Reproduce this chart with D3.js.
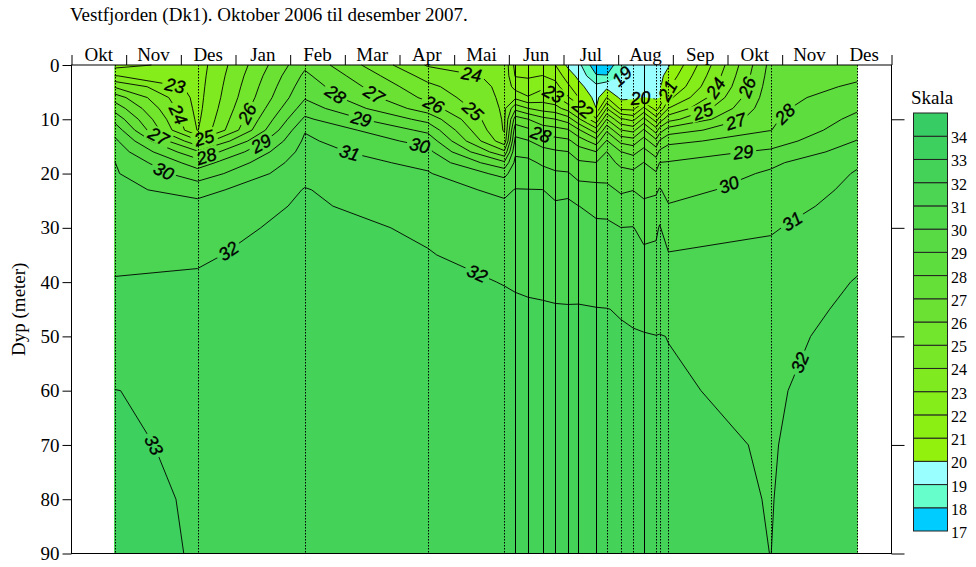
<!DOCTYPE html>
<html>
<head>
<meta charset="utf-8">
<title>Vestfjorden (Dk1)</title>
<script src="https://cdn.jsdelivr.net/npm/d3@7/dist/d3.min.js"></script>
<style>
  body { margin: 0; background: #fff; }
  svg { display: block; }
</style>
</head>
<body>
<div id="chart"></div>
<script>
const W = 976, H = 567;
const serif = '"Liberation Serif", "Times New Roman", serif';
const sans = '"Liberation Sans", Arial, sans-serif';

const title = "Vestfjorden (Dk1). Oktober 2006 til desember 2007.";
const months = ["Okt","Nov","Des","Jan","Feb","Mar","Apr","Mai","Jun","Jul","Aug","Sep","Okt","Nov","Des"];
const depthTicks = [0, 10, 20, 30, 40, 50, 60, 70, 80, 90];
const legendLevels = d3.range(17, 35);

// sampling depths (m) of each profile
const depths = [0, 2, 4, 6, 8, 10, 12, 14, 16, 18, 20, 23, 26, 30, 35, 40, 45, 50, 60, 70, 80, 90];

// station dates
const stations = [
  "2006-10-25", "2006-12-10", "2007-02-08", "2007-04-16", "2007-05-29",
  "2007-06-04", "2007-06-11", "2007-06-19", "2007-06-26", "2007-07-03",
  "2007-07-09", "2007-07-19", "2007-07-25", "2007-08-02", "2007-08-09",
  "2007-08-15", "2007-08-22", "2007-08-24", "2007-08-29", "2007-10-25",
  "2007-12-12"
];

// salinity profile per station, one value per depth above
const salinity = [
  [21.6, 23.02, 24.9, 26.53, 27.63, 28.68, 29.61, 30.22, 30.61, 31.02, 31.1, 31.24, 31.38, 31.57, 31.81, 32.05, 32.3, 32.56, 33.01, 33.09, 33.17, 33.25],
  [22.5, 22.55, 22.6, 22.65, 22.7, 22.8, 22.95, 25.2, 27.14, 28.5, 29.43, 30.64, 31.3, 31.6, 31.9, 32.1, 32.33, 32.55, 32.87, 32.9, 32.94, 32.95],
  [27.8, 28.21, 28.56, 28.91, 29.5, 30.19, 30.93, 31.18, 31.37, 31.57, 31.76, 32.04, 32.13, 32.28, 32.33, 32.38, 32.42, 32.46, 32.52, 32.58, 32.64, 32.7],
  [23.9, 24.63, 25.25, 25.75, 26.5, 27.67, 28.75, 29.65, 30.29, 30.76, 31.08, 31.32, 31.56, 31.88, 32.04, 32.09, 32.15, 32.21, 32.32, 32.43, 32.54, 32.65],
  [23.7, 23.72, 23.75, 23.78, 23.82, 23.86, 23.9, 24.38, 26.2, 28.2, 29.71, 30.83, 31.15, 31.39, 31.7, 31.99, 32.06, 32.12, 32.24, 32.36, 32.48, 32.6],
  [21.7, 21.95, 22.62, 23.77, 25.7, 27.5, 28.57, 29.28, 29.83, 30.24, 30.58, 31.03, 31.19, 31.42, 31.69, 31.97, 32.05, 32.1, 32.22, 32.33, 32.44, 32.55],
  [21.6, 21.89, 22.39, 23.09, 25.02, 27.02, 28.22, 29.06, 29.69, 30.23, 30.53, 31.02, 31.18, 31.4, 31.67, 31.95, 32.04, 32.09, 32.2, 32.32, 32.43, 32.55],
  [21.3, 22.02, 22.8, 23.54, 24.58, 26.33, 27.55, 28.56, 29.32, 29.86, 30.33, 31.01, 31.16, 31.38, 31.65, 31.92, 32.04, 32.09, 32.2, 32.32, 32.43, 32.55],
  [21.0, 21.67, 22.4, 23.25, 24.38, 26.02, 27.37, 28.35, 29.13, 29.64, 30.13, 30.78, 31.11, 31.33, 31.61, 31.89, 32.03, 32.09, 32.2, 32.32, 32.43, 32.55],
  [19.8, 20.5, 21.22, 22.13, 23.58, 25.5, 27.12, 28.2, 29.02, 29.54, 30.08, 30.85, 31.13, 31.34, 31.6, 31.86, 32.03, 32.08, 32.19, 32.31, 32.43, 32.55],
  [19.3, 19.77, 20.33, 21.02, 22.62, 24.2, 26.17, 27.56, 28.44, 29.14, 29.68, 30.39, 31.01, 31.24, 31.53, 31.83, 32.04, 32.09, 32.2, 32.32, 32.43, 32.55],
  [17.3, 18.1, 19.3, 19.67, 20.02, 22.22, 24.44, 26.45, 28.02, 29.02, 29.63, 30.3, 30.79, 31.16, 31.46, 31.75, 32.02, 32.07, 32.19, 32.3, 32.42, 32.55],
  [17.4, 18.05, 19.75, 21.02, 23.02, 25.02, 26.83, 28.09, 29.02, 29.34, 29.69, 30.22, 30.76, 31.16, 31.44, 31.74, 32.01, 32.07, 32.19, 32.3, 32.42, 32.55],
  [18.6, 18.96, 19.38, 19.79, 20.77, 23.17, 25.02, 26.73, 28.02, 28.8, 29.29, 29.88, 30.38, 31.01, 31.33, 31.65, 31.97, 32.05, 32.17, 32.3, 32.42, 32.55],
  [19.3, 19.49, 19.68, 19.88, 20.7, 22.7, 24.7, 26.47, 27.71, 28.6, 29.22, 29.98, 30.45, 31.03, 31.32, 31.62, 31.91, 32.04, 32.16, 32.28, 32.41, 32.55],
  [19.4, 19.6, 19.8, 20.02, 22.22, 24.3, 26.14, 27.44, 28.33, 29.02, 29.31, 29.77, 30.19, 30.71, 31.18, 31.51, 31.84, 32.03, 32.16, 32.28, 32.41, 32.55],
  [19.5, 19.64, 19.77, 19.91, 20.58, 22.5, 24.5, 26.29, 27.56, 28.44, 29.12, 29.85, 30.31, 30.82, 31.2, 31.49, 31.77, 32.01, 32.14, 32.28, 32.42, 32.55],
  [19.6, 19.72, 19.85, 19.97, 21.22, 23.44, 25.5, 27.12, 28.2, 29.02, 29.44, 30.08, 30.57, 31.07, 31.3, 31.53, 31.77, 32.02, 32.14, 32.28, 32.41, 32.55],
  [19.9, 20.38, 20.88, 21.75, 23.02, 24.64, 26.5, 27.74, 28.5, 29.06, 29.31, 29.69, 30.06, 30.52, 31.06, 31.37, 31.68, 31.99, 32.07, 32.25, 32.32, 32.4],
  [27.3, 27.41, 27.53, 27.64, 27.75, 27.86, 27.98, 28.52, 29.17, 29.83, 30.12, 30.36, 30.6, 30.92, 31.2, 31.4, 31.57, 31.7, 31.85, 31.93, 31.97, 31.995],
  [27.6, 27.84, 28.13, 28.5, 28.87, 29.25, 29.65, 30.04, 30.47, 30.89, 31.07, 31.22, 31.37, 31.57, 31.82, 32.05, 32.2, 32.35, 32.6, 32.7, 32.75, 32.8]
];

// contour labels: [level, month position (0 = start of Okt 2006), depth]
const contourLabels = [
  [23, 1.89, 4.2], [24, 1.85, 9.6], [27, 1.56, 13.8], [30, 1.67, 19.9],
  [25, 2.44, 13.8], [28, 2.48, 17.2], [26, 3.26, 9.2], [29, 3.5, 15.1],
  [28, 4.86, 5.0], [27, 5.56, 5.0], [29, 5.32, 9.2], [31, 5.1, 15.7],
  [32, 2.86, 34.1], [26, 6.62, 7.4], [24, 7.3, 2.8], [25, 7.3, 8.9],
  [30, 6.38, 14.4], [32, 7.45, 37.8], [23, 8.82, 5.2], [28, 8.55, 13.5],
  [22, 9.41, 7.4], [19, 10.1, 2.2], [20, 10.42, 6.8], [21, 10.97, 5.0],
  [24, 11.83, 4.6], [26, 12.38, 4.2], [25, 11.57, 9.2], [27, 12.16, 10.7],
  [28, 13.02, 8.7], [29, 12.29, 16.1], [30, 12.01, 21.6], [31, 13.17, 28.6],
  [32, 13.22, 54.4], [33, 1.58, 69.7]
];

// stations drawn with a full line instead of dots
const solidStations = new Set([5, 6, 7, 8, 9, 10, 11, 15]);

const special = {17: "#00ccff", 18: "#66ffcc", 19: "#99ffff"};
const greens = d3.interpolateRgb("#92f20e", "#37cd64");
const bandColor = k => special[k] || greens((k - 20) / 14);

function monthPos(s) {
  const [yy, mm, dd] = s.split("-").map(Number);
  const dim = new Date(yy, mm, 0).getDate();
  return (yy - 2006) * 12 + (mm - 10) + (dd - 0.5) / dim;
}

const x = d3.scaleLinear().domain([0, 15]).range([71.5, 891.5]);
const y = d3.scaleLinear().domain([0, 90]).range([65, 553.5]);

const svg = d3.select("#chart").append("svg")
  .attr("width", W).attr("height", H)
  .attr("viewBox", [0, 0, W, H]);

// ---- contouring on the station x depth grid
const n = stations.length, m = depths.length;
const stX = stations.map(s => x(monthPos(s)));
const dY = depths.map(d => y(d));
const values = [];
for (let j = 0; j < m; j++) for (let i = 0; i < n; i++) values.push(salinity[i][j]);
const bands = d3.contours().size([n, m]).thresholds(legendLevels)(values);

const idx = (c, len) => Math.max(0, Math.min(len - 1, c - 0.5));
function lerp(arr, t) {
  const i = Math.min(arr.length - 2, Math.floor(t));
  return arr[i] + (arr[i + 1] - arr[i]) * (t - i);
}
const toPx = p => [lerp(stX, p[0]), lerp(dY, p[1])];
const gridPt = p => [idx(p[0], n), idx(p[1], m)];

function bandPath(b) {
  return b.coordinates.map(poly => poly.map(r =>
    "M" + r.map(p => toPx(gridPt(p)).map(v => v.toFixed(2)).join(",")).join("L") + "Z"
  ).join("")).join("");
}

svg.append("g")
  .selectAll("path")
  .data(bands)
  .join("path")
  .attr("d", bandPath)
  .attr("fill", b => bandColor(b.value))
  .attr("fill-rule", "evenodd");

// station lines
svg.append("g")
  .selectAll("line")
  .data(stX)
  .join("line")
  .attr("x1", d => Math.round(d) + 0.5).attr("x2", d => Math.round(d) + 0.5)
  .attr("y1", y(0)).attr("y2", y(90))
  .attr("stroke", "#000")
  .attr("stroke-width", 1)
  .attr("stroke-dasharray", (d, i) => solidStations.has(i) ? null : "1.5,1.5");

// isolines = band borders without the outer frame parts
const eps = 1e-6;
function isolines(b) {
  const out = [];
  b.coordinates.forEach(poly => poly.forEach(ring => {
    const pts = ring.map(gridPt);
    const N = pts.length - 1;
    const onEdge = k => {
      const a = pts[k], c = pts[k + 1];
      return (a[0] < eps && c[0] < eps) || (a[0] > n - 1 - eps && c[0] > n - 1 - eps) ||
             (a[1] < eps && c[1] < eps) || (a[1] > m - 1 - eps && c[1] > m - 1 - eps);
    };
    let start = -1;
    for (let k = 0; k < N; k++) if (onEdge(k)) { start = k; break; }
    if (start < 0) { out.push(pts.map(toPx)); return; }
    let cur = null;
    for (let s = 1; s <= N; s++) {
      const k = (start + s) % N;
      if (onEdge(k)) { if (cur) { out.push(cur); cur = null; } }
      else {
        if (!cur) cur = [toPx(pts[k])];
        cur.push(toPx(pts[k + 1]));
      }
    }
    if (cur) out.push(cur);
  }));
  return out;
}

const linesByLevel = new Map();
bands.filter(b => b.value >= 18 && b.value <= 33).forEach(b => linesByLevel.set(b.value, isolines(b)));

const defs = svg.append("defs");
const mask = defs.append("mask").attr("id", "lblmask")
  .attr("maskUnits", "userSpaceOnUse")
  .attr("x", 0).attr("y", 0).attr("width", W).attr("height", H);
mask.append("rect").attr("width", W).attr("height", H).attr("fill", "#fff");

const lineGen = d3.line();
const isoG = svg.append("g").attr("mask", "url(#lblmask)")
  .attr("fill", "none").attr("stroke", "#000").attr("stroke-width", 0.9);
linesByLevel.forEach(lines => {
  lines.forEach(L => isoG.append("path").attr("d", lineGen(L)));
});

// ---- contour labels
function nearestOn(lines, tx, ty) {
  let best = null;
  lines.forEach(L => {
    for (let k = 0; k < L.length - 1; k++) {
      const [ax, ay] = L[k], [bx, by] = L[k + 1];
      const dx = bx - ax, dy = by - ay, l2 = dx * dx + dy * dy;
      let t = l2 ? ((tx - ax) * dx + (ty - ay) * dy) / l2 : 0;
      t = Math.max(0, Math.min(1, t));
      const qx = ax + t * dx, qy = ay + t * dy;
      const d = (qx - tx) ** 2 + (qy - ty) ** 2;
      if (!best || d < best.d) best = {d, L, k, t, qx, qy};
    }
  });
  return best;
}
function pointAt(L, cum, s) {
  s = Math.max(0, Math.min(cum[cum.length - 1], s));
  let k = d3.bisectRight(cum, s) - 1;
  k = Math.max(0, Math.min(L.length - 2, k));
  const seg = cum[k + 1] - cum[k];
  const t = seg ? (s - cum[k]) / seg : 0;
  return [L[k][0] + (L[k + 1][0] - L[k][0]) * t, L[k][1] + (L[k + 1][1] - L[k][1]) * t];
}

const lblG = svg.append("g")
  .attr("font-family", sans).attr("font-size", 18).attr("font-style", "italic")
  .attr("stroke", "#000").attr("stroke-width", 0.35)
  .attr("text-anchor", "middle").attr("fill", "#000");

contourLabels.forEach(([lev, mp, dep]) => {
  const lines = linesByLevel.get(lev);
  if (!lines || !lines.length) return;
  const hit = nearestOn(lines, x(mp), y(dep));
  if (!hit) return;
  const L = hit.L;
  const cum = [0];
  for (let k = 1; k < L.length; k++) cum.push(cum[k - 1] + Math.hypot(L[k][0] - L[k - 1][0], L[k][1] - L[k - 1][1]));
  const s0 = cum[hit.k] + hit.t * (cum[hit.k + 1] - cum[hit.k]);
  const a = pointAt(L, cum, s0 - 9), b = pointAt(L, cum, s0 + 9);
  let ang = Math.atan2(b[1] - a[1], b[0] - a[0]) * 180 / Math.PI;
  if (ang > 90) ang -= 180;
  if (ang < -90) ang += 180;
  const tr = `translate(${hit.qx.toFixed(1)},${hit.qy.toFixed(1)}) rotate(${ang.toFixed(1)})`;
  mask.append("rect").attr("x", -13).attr("y", -8).attr("width", 26).attr("height", 16)
    .attr("transform", tr).attr("fill", "#000");
  lblG.append("text").attr("transform", tr).attr("dy", "0.36em").text(lev);
});

// ---- axes and frame
const axisFont = g => g.attr("font-family", serif).attr("font-size", 19);

const axLeft = svg.append("g").attr("transform", "translate(71.5,0)")
  .call(d3.axisLeft(y).tickValues(depthTicks).tickSize(9).tickPadding(3))
  .call(axisFont);
axLeft.select(".domain").remove();
axLeft.selectAll("line").attr("stroke", "#000");
axLeft.selectAll("text").attr("fill", "#000");

const axTop = svg.append("g").attr("transform", "translate(0,65)")
  .call(d3.axisTop(x).tickValues(d3.range(16)).tickSize(10).tickFormat(""));
axTop.select(".domain").remove();
axTop.selectAll("line").attr("stroke", "#000");

const axRight = svg.append("g").attr("transform", "translate(891.5,0)")
  .call(d3.axisRight(y).tickValues([10, 30, 50, 70, 90]).tickSize(13).tickFormat(""));
axRight.select(".domain").remove();
axRight.selectAll("line").attr("stroke", "#000");

svg.append("g").call(axisFont)
  .selectAll("text")
  .data(months)
  .join("text")
  .attr("x", (d, i) => x(i + 0.5))
  .attr("y", 61)
  .attr("text-anchor", "middle")
  .text(d => d);

svg.append("rect")
  .attr("x", 71.5).attr("y", 65)
  .attr("width", x(15) - 71.5).attr("height", y(90) - 65)
  .attr("fill", "none").attr("stroke", "#000");

svg.append("text").call(axisFont)
  .attr("transform", `translate(25,${(y(0) + y(90)) / 2}) rotate(-90)`)
  .attr("text-anchor", "middle")
  .text("Dyp (meter)");

svg.append("text").call(axisFont)
  .attr("x", 70).attr("y", 21)
  .text(title);

// ---- legend
const ly = d3.scaleLinear().domain([35, 17]).range([113, 531]);
const leg = svg.append("g");
leg.selectAll("rect")
  .data(legendLevels)
  .join("rect")
  .attr("x", 913.5).attr("y", d => ly(d + 1))
  .attr("width", 34).attr("height", d => ly(d) - ly(d + 1))
  .attr("fill", d => bandColor(d))
  .attr("stroke", "#222").attr("stroke-width", 1);
leg.selectAll("text")
  .data(legendLevels)
  .join("text")
  .attr("x", 951).attr("y", d => ly(d) + 7)
  .attr("font-family", serif).attr("font-size", 16)
  .text(d => d);
svg.append("text").call(axisFont)
  .attr("x", 911).attr("y", 104)
  .text("Skala");
</script>
</body>
</html>
